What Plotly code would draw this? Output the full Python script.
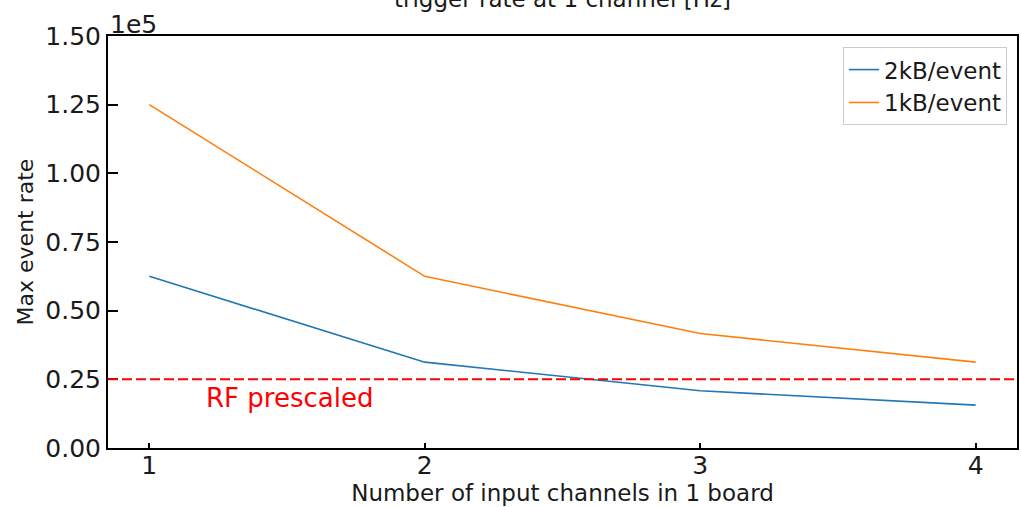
import plotly.graph_objects as go

# Number of input channels per board
channels = [1, 2, 3, 4]

# Maximum event rate [Hz] for each event size
rate_2kb = [62500, 31250, 20833, 15625]
rate_1kb = [125000, 62500, 41667, 31250]

# RF prescaled trigger level [Hz]
rf_prescaled = 25000

# Y-axis ticks shown in units of 1e5
y_tickvals = [0, 25000, 50000, 75000, 100000, 125000, 150000]
y_ticktext = ["0.00", "0.25", "0.50", "0.75", "1.00", "1.25", "1.50"]
x_tickvals = [1, 2, 3, 4]
x_ticktext = ["1", "2", "3", "4"]

FONT = "DejaVu Sans"
TXT = "#1a1a1a"

fig = go.Figure()
fig.add_trace(go.Scatter(x=channels, y=rate_2kb, mode="lines", name="2kB/event",
                         line=dict(color="#1f77b4", width=1.6)))
fig.add_trace(go.Scatter(x=channels, y=rate_1kb, mode="lines", name="1kB/event",
                         line=dict(color="#ff7f0e", width=1.6)))

# Horizontal dashed reference line
fig.add_shape(type="line", xref="x domain", x0=0, x1=1, yref="y",
              y0=rf_prescaled, y1=rf_prescaled,
              line=dict(color="red", width=2, dash="10px,4px"))

fig.add_annotation(x=1.2, y=rf_prescaled, xref="x", yref="y", text="RF prescaled",
                   showarrow=False, xanchor="left", yanchor="top", yshift=-2,
                   font=dict(family=FONT, size=26, color="red"))

# Offset text for the y axis scale
fig.add_annotation(x=0, y=1, xref="paper", yref="paper", text="1e5",
                   showarrow=False, xanchor="left", yanchor="bottom", yshift=-5,
                   font=dict(family=FONT, size=25, color=TXT))

# Title
fig.add_annotation(x=0.5, y=1, xref="paper", yref="paper",
                   text="trigger rate at 1 channel [Hz]",
                   showarrow=False, xanchor="center", yanchor="bottom", yshift=22,
                   font=dict(family=FONT, size=23, color=TXT))

fig.update_layout(
    width=1021, height=507,
    margin=dict(l=108, r=2, t=36, b=59),
    paper_bgcolor="white", plot_bgcolor="white",
    font=dict(family=FONT, color=TXT),
    showlegend=True,
    legend=dict(x=0.989, y=0.973, xanchor="right", yanchor="top",
                bgcolor="white", bordercolor="#cccccc", borderwidth=1,
                font=dict(family=FONT, size=23, color=TXT),
                tracegroupgap=2),
)

fig.update_xaxes(range=[0.85, 4.15], tickvals=x_tickvals, ticktext=x_ticktext,
                 showgrid=False, zeroline=False,
                 showline=True, linecolor="black", linewidth=2, mirror=True,
                 ticks="inside", ticklen=5, tickwidth=2, tickcolor="black",
                 ticklabelstandoff=-6,
                 tickfont=dict(family=FONT, size=25, color=TXT),
                 title=dict(text="Number of input channels in 1 board",
                            font=dict(family=FONT, size=23, color=TXT),
                            standoff=3))

fig.update_yaxes(range=[0, 150000], tickvals=y_tickvals, ticktext=y_ticktext,
                 showgrid=False, zeroline=False,
                 showline=True, linecolor="black", linewidth=2, mirror=True,
                 ticks="inside", ticklen=10, tickwidth=2, tickcolor="black",
                 tickfont=dict(family=FONT, size=25, color=TXT),
                 title=dict(text="Max event rate",
                            font=dict(family=FONT, size=22, color=TXT),
                            standoff=6))

fig.write_html("out.html")
